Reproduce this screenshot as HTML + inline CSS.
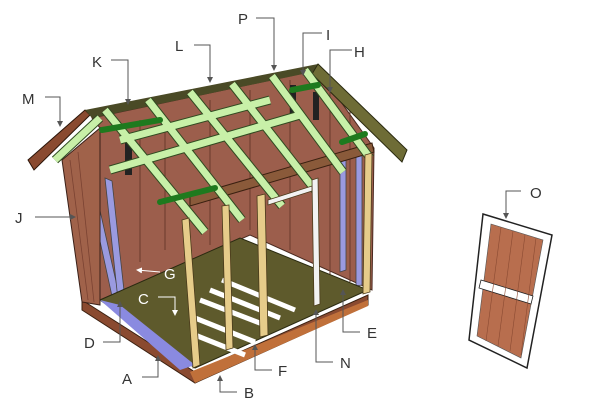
<!DOCTYPE html>
<html><head><meta charset="utf-8"><style>
html,body{margin:0;padding:0;background:#fff;}
svg{display:block;}
text{font-family:"Liberation Sans",sans-serif;font-size:15px;fill:#333;}
</style></head><body>
<svg width="600" height="419" viewBox="0 0 600 419" xmlns="http://www.w3.org/2000/svg">
<defs><marker id="ar" markerWidth="6" markerHeight="6" refX="5" refY="3" orient="auto"><path d="M0,0 L6,3 L0,6 z" fill="#555"/></marker>
<marker id="aw" markerWidth="6" markerHeight="6" refX="5" refY="3" orient="auto"><path d="M0,0 L6,3 L0,6 z" fill="#fff"/></marker></defs>
<!-- floor rim / base -->
<polygon points="82,300 195,372 368,295 368,305 195,383 82,310" fill="#8a4a30" stroke="#3a2010" stroke-width="1"/>
<polygon points="190,372 368,300 368,306 195,383" fill="#c0703a"/>
<!-- interior walls incl. gable area under roof -->
<polygon points="92,118 318,70 374,148 372,290 250,235 100,300 100,128" fill="#9c5e4c" stroke="#4a2a20" stroke-width="1"/>
<g stroke="#6a3a2c" stroke-width="1">
<line x1="140" y1="120" x2="140" y2="262"/><line x1="165" y1="115" x2="165" y2="250"/>
<line x1="210" y1="100" x2="210" y2="245"/><line x1="250" y1="90" x2="250" y2="230"/>
<line x1="290" y1="80" x2="290" y2="250"/><line x1="330" y1="85" x2="330" y2="275"/><line x1="350" y1="110" x2="350" y2="282"/>
</g>
<rect x="125" y="135" width="7" height="40" fill="#222"/>
<rect x="290" y="85" width="6" height="30" fill="#222"/>
<rect x="313" y="92" width="6" height="28" fill="#222"/>
<!-- purple studs -->
<polygon points="85,172 92,175 122,308 115,310" fill="#9a9ae0" stroke="#444" stroke-width="0.8"/>
<polygon points="105,178 112,181 125,300 118,300" fill="#9a9ae0" stroke="#444" stroke-width="0.8"/>
<polygon points="340,160 346,158 346,270 340,272" fill="#9a9ae0" stroke="#444" stroke-width="0.8"/>
<polygon points="356,155 362,154 362,285 356,286" fill="#9a9ae0" stroke="#444" stroke-width="0.8"/>
<!-- floor -->
<polygon points="100,300 240,238 368,290 195,368" fill="#5e5a2c" stroke="#2a2a10" stroke-width="1"/>
<g stroke="#fff" stroke-width="5">
<line x1="200" y1="300" x2="265" y2="325"/><line x1="210" y1="290" x2="280" y2="318"/>
<line x1="195" y1="318" x2="255" y2="342"/><line x1="195" y1="335" x2="245" y2="355"/>
<line x1="222" y1="280" x2="295" y2="310"/>
</g>
<polygon points="100,300 120,305 195,365 180,370" fill="#8a8ae0"/>
<!-- left end wall -->
<polygon points="62,160 100,128 100,305 82,302" fill="#a0624a" stroke="#3a2018" stroke-width="1"/>
<g stroke="#7a4232" stroke-width="0.8"><line x1="70" y1="160" x2="88" y2="300"/><line x1="78" y1="152" x2="94" y2="302"/></g>
<!-- gable roof boards -->
<polygon points="28,160 85,110 90,115 34,170" fill="#8a4a30" stroke="#2a1408" stroke-width="1"/>
<polygon points="85,110 318,64 322,70 92,118" fill="#4a4a26"/>
<polygon points="318,64 407,150 402,162 312,74" fill="#6e6c36" stroke="#2a2a10" stroke-width="1"/>
<!-- front wall top plate -->
<polygon points="190,196 372,143 374,152 190,206" fill="#8a5a3a" stroke="#3a2010" stroke-width="1"/>
<!-- rafters -->
<g stroke="#2f4a20" stroke-width="9" stroke-linecap="butt">
<line x1="105" y1="110" x2="205" y2="232"/><line x1="148" y1="100" x2="242" y2="220"/>
<line x1="190" y1="92" x2="282" y2="206"/><line x1="232" y1="84" x2="315" y2="190"/>
<line x1="272" y1="76" x2="343" y2="172"/><line x1="305" y1="70" x2="370" y2="158"/>
<line x1="100" y1="118" x2="55" y2="160"/>
<line x1="110" y1="170" x2="300" y2="115"/>
<line x1="120" y1="140" x2="270" y2="100"/>
</g>
<g stroke="#c8f0a8" stroke-width="7" stroke-linecap="butt">
<line x1="105" y1="110" x2="205" y2="232"/><line x1="148" y1="100" x2="242" y2="220"/>
<line x1="190" y1="92" x2="282" y2="206"/><line x1="232" y1="84" x2="315" y2="190"/>
<line x1="272" y1="76" x2="343" y2="172"/><line x1="305" y1="70" x2="370" y2="158"/>
<line x1="100" y1="118" x2="55" y2="160"/>
<line x1="110" y1="170" x2="300" y2="115"/>
<line x1="120" y1="140" x2="270" y2="100"/>
</g>
<!-- blocking -->
<g stroke="#1e7a1e" stroke-width="6" stroke-linecap="round">
<line x1="102" y1="130" x2="160" y2="120"/><line x1="160" y1="202" x2="215" y2="188"/>
<line x1="292" y1="90" x2="318" y2="85"/><line x1="342" y1="142" x2="365" y2="134"/>
</g>
<!-- front studs -->
<g stroke="#4a3a1a" stroke-width="0.8">
<polygon points="182,220 189,218 200,365 193,368" fill="#e6cc8a"/>
<polygon points="222,206 229,205 233,348 226,350" fill="#e6cc8a"/>
<polygon points="257,196 265,194 268,335 260,337" fill="#e6cc8a"/>
<polygon points="312,180 318,178 320,304 314,306" fill="#f2f2f2"/>
<polygon points="365,155 372,153 370,292 363,294" fill="#e6cc8a"/>
<polygon points="268,200 312,186 312,191 268,205" fill="#f2f2f2"/>
</g>
<!-- door -->
<polygon points="483,214 552,235 527,368 469,340" fill="#fff" stroke="#222" stroke-width="1.5"/>
<polygon points="491,224 543,240 521,358 477,336" fill="#b86e4e" stroke="#555" stroke-width="0.6"/>
<polygon points="481,280 533,296 531,304 479,288" fill="#fff" stroke="#222" stroke-width="0.8"/>
<g stroke="#8a4a32" stroke-width="0.6"><line x1="501" y1="227" x2="486" y2="341"/><line x1="513" y1="231" x2="498" y2="346"/><line x1="525" y1="235" x2="510" y2="351"/><line x1="536" y1="238" x2="521" y2="355"/></g>
<!-- leaders -->
<g stroke="#555" stroke-width="1" fill="none" marker-end="url(#ar)">
<polyline points="256,18 274,18 274,70"/><polyline points="322,33 303,33 303,75"/>
<polyline points="352,50 330,50 330,92"/><polyline points="194,45 210,45 210,82"/>
<polyline points="111,60 128,60 128,104"/><polyline points="45,97 60,97 60,126"/>
<polyline points="35,217 75,217"/><polyline points="103,342 120,342 120,302"/>
<polyline points="142,377 158,377 158,356"/><polyline points="237,392 220,392 220,376"/>
<polyline points="272,370 255,370 255,345"/><polyline points="333,362 316,362 316,310"/>
<polyline points="360,332 343,332 343,290"/><polyline points="521,191 506,191 506,218"/>
</g>
<g stroke="#fff" stroke-width="1" fill="none" marker-end="url(#aw)"><polyline points="160,272 137,270"/><polyline points="158,297 175,297 175,315"/></g>
<text x="238" y="24">P</text><text x="326" y="40">I</text><text x="354" y="57">H</text>
<text x="175" y="51">L</text><text x="92" y="67">K</text><text x="22" y="104">M</text>
<text x="15" y="223">J</text><text x="84" y="348">D</text><text x="122" y="384">A</text>
<text x="244" y="398">B</text><text x="278" y="376">F</text><text x="340" y="368">N</text>
<text x="367" y="338">E</text><text x="530" y="198">O</text>
<text x="164" y="279" style="fill:#fff">G</text><text x="138" y="304" style="fill:#fff">C</text>
</svg>
</body></html>
